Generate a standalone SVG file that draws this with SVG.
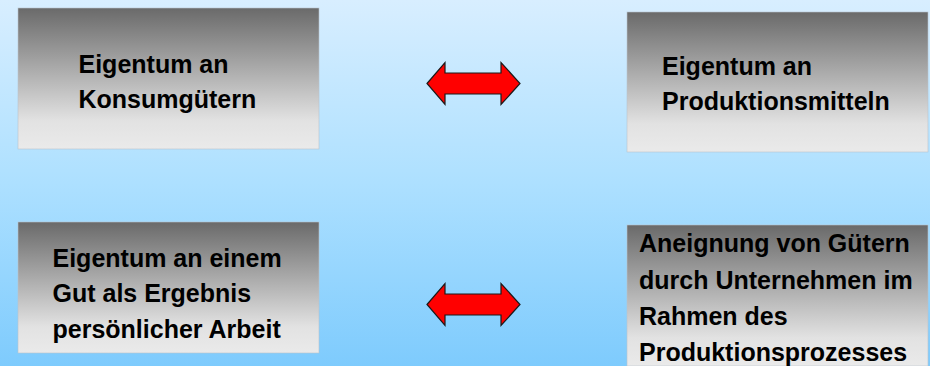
<svg xmlns="http://www.w3.org/2000/svg" xmlns:xlink="http://www.w3.org/1999/xlink" width="930" height="366" viewBox="0 0 930 366">
  <defs>
    <linearGradient id="bg" x1="0" y1="0" x2="0" y2="1">
      <stop offset="0" stop-color="#d8eeff"/>
      <stop offset="0.5" stop-color="#ade0ff"/>
      <stop offset="1" stop-color="#7ecbfd"/>
    </linearGradient>
    <linearGradient id="box" x1="0" y1="0" x2="0" y2="1">
      <stop offset="0" stop-color="#6a6a6a"/>
      <stop offset="0.8" stop-color="#e2e2e2"/>
      <stop offset="1" stop-color="#eaeaea"/>
    </linearGradient>
    <path id="dblarrow" d="M427,0 L445,-21 L445,-10.5 L501,-10.5 L501,-21 L520,0 L501,21 L501,10.5 L445,10.5 L445,21 Z"/>
  </defs>
  <style>
    .box { fill: url(#box); stroke: #b8c4cc; stroke-width: 0.6; }
    .lbl { font-family: "Liberation Sans", Arial, sans-serif; font-weight: bold; font-size: 25px; fill: #000; }
    .arrow { fill: #ff0000; stroke: #1a1a1a; stroke-width: 1.2; stroke-linejoin: miter; }
  </style>
  <rect x="0" y="0" width="930" height="366" fill="url(#bg)"/>

  <g id="node-konsum">
    <rect class="box" x="18" y="8" width="301" height="141"/>
    <text class="lbl" x="78.5" y="72.5">Eigentum an</text>
    <text class="lbl" x="78.5" y="107.5">Konsumgütern</text>
  </g>

  <g id="node-produktionsmittel">
    <rect class="box" x="627" y="12" width="301" height="140"/>
    <text class="lbl" x="662" y="75">Eigentum an</text>
    <text class="lbl" x="662" y="110">Produktionsmitteln</text>
  </g>

  <g id="node-arbeit">
    <rect class="box" x="18" y="222" width="301" height="131"/>
    <text class="lbl" x="52.5" y="266.5">Eigentum an einem</text>
    <text class="lbl" x="52.5" y="302">Gut als Ergebnis</text>
    <text class="lbl" x="52.5" y="337.5">persönlicher Arbeit</text>
  </g>

  <g id="node-aneignung">
    <rect class="box" x="627" y="225" width="301" height="141"/>
    <text class="lbl" x="639" y="252">Aneignung von Gütern</text>
    <text class="lbl" x="639" y="288.5">durch Unternehmen im</text>
    <text class="lbl" x="639" y="325">Rahmen des</text>
    <text class="lbl" x="639" y="361">Produktionsprozesses</text>
  </g>

  <g id="connectors">
    <use xlink:href="#dblarrow" href="#dblarrow" class="arrow" transform="translate(0,83.5)"/>
    <use xlink:href="#dblarrow" href="#dblarrow" class="arrow" transform="translate(0,304.5)"/>
  </g>
</svg>
